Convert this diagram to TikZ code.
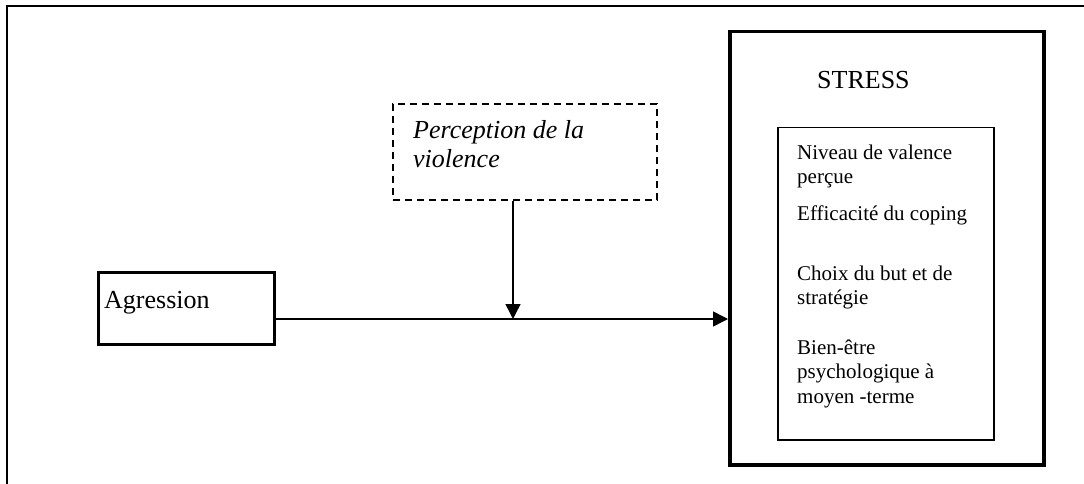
\documentclass[tikz,border=0pt]{standalone}
\usepackage{fontspec}
\setmainfont{Liberation Serif}
\usetikzlibrary{arrows.meta,calc}
\begin{document}
\begin{tikzpicture}[x=1pt,y=-1pt,
  frame/.style={line width=2.5pt},
  thickbox/.style={draw, line width=3pt, inner sep=0pt, anchor=north west},
  thinbox/.style={draw, line width=1.5pt, inner sep=0pt, anchor=north west},
  dashbox/.style={draw, line width=2pt, dash pattern=on 7pt off 5pt, inner sep=0pt, anchor=north west},
  big/.style={font=\fontsize{26}{29}\selectfont, inner sep=0pt},
  small/.style={font=\fontsize{21}{24.5}\selectfont, inner sep=0pt, align=left, anchor=north west},
  link/.style={line width=1.5pt, -{Triangle[length=15pt,width=15pt]}},
]
\useasboundingbox (0,0) rectangle (1084,484);
% page frame (only top and left edges fall inside the page)
\draw[frame] (1084,6) -- (7,6) -- (7,484);

% cause
\node[thickbox, minimum width=176pt, minimum height=72pt] (agr) at (97,271) {};
\node[big, anchor=base west] (agrlabel) at (104,308) {Agression};

% moderator
\node[dashbox, minimum width=264pt, minimum height=96pt] (perc) at (392,103) {};
\node[big, align=left, anchor=north west, font=\fontsize{26}{29}\selectfont\itshape] (perclabel) at (413,120) {Perception de la\\violence};

% outcome
\node[thickbox, line width=3.5pt, minimum width=314pt, minimum height=433pt] (stress) at (728,30) {};
\node[big, anchor=base west] (stresslabel) at (817,89) {STRESS};
\node[thinbox, minimum width=216pt, minimum height=312pt] (inner) at (777,127) {};
\node[small] (i1) at (797,144.5) {Niveau de valence\\perçue};
\node[small] (i2) at (797,205.5) {Efficacité du coping};
\node[small] (i3) at (797,265.5) {Choix du but et de\\stratégie};
\node[small] (i4) at (797,339.5) {Bien-être\\psychologique à\\moyen -terme};

% connectors
\coordinate (j) at (513,319);
\draw[link] (j -| agr.east) -- (j -| stress.west);
\draw[link] (j |- perc.south) -- (j);
\end{tikzpicture}
\end{document}
